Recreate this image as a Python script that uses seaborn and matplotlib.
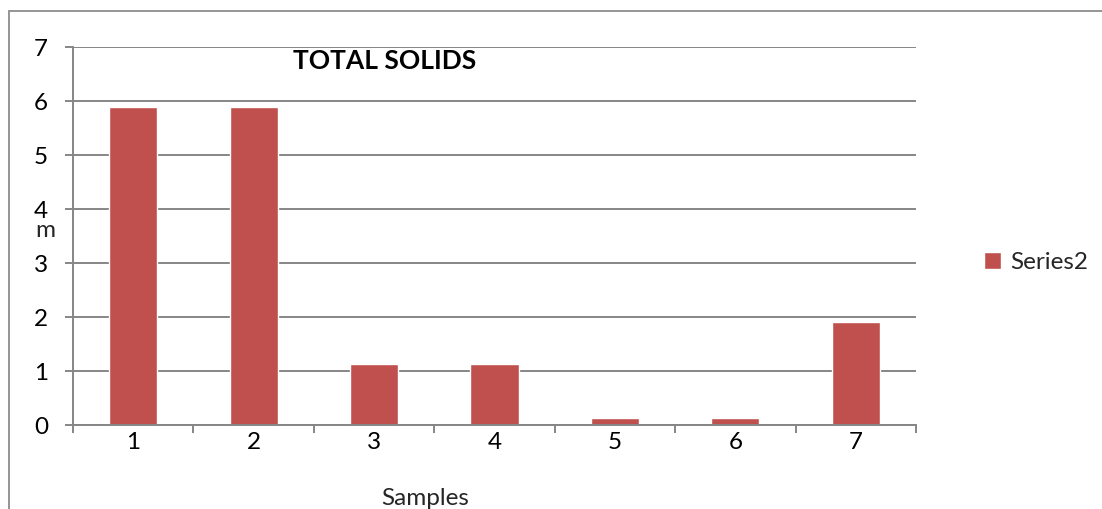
import matplotlib
matplotlib.use("Agg")
import matplotlib.pyplot as plt
from matplotlib.patches import Patch, Rectangle
import seaborn as sns
import pandas as pd

# Total solids per sample
samples = ["1", "2", "3", "4", "5", "6", "7"]
total_solids = [5.9, 5.9, 1.13, 1.13, 0.13, 0.13, 1.9]
y_ticks = [0, 1, 2, 3, 4, 5, 6, 7]

bar_color = "#C0504D"
grid_color = "#868686"
fs = 17.5

sns.set_theme(style="white")
plt.rcParams["font.family"] = ["Lato", "DejaVu Sans"]

fig = plt.figure(figsize=(11.02, 5.09), dpi=100)
ax = fig.add_axes([0.0662, 0.165, 0.765, 0.7423])

df = pd.DataFrame({"sample": samples, "value": total_solids})
sns.barplot(data=df, x="sample", y="value", color=bar_color, width=0.4,
            saturation=1, ax=ax)

ax.set_xlim(-0.5, len(samples) - 0.5)
ax.set_ylim(0, 7)
ax.set_yticks(y_ticks)
ax.set_yticklabels([str(t) for t in y_ticks])
ax.yaxis.grid(True, color=grid_color, linewidth=1.4)
ax.set_axisbelow(True)

# Tick marks sit between categories on x
ax.set_xticks([i - 0.5 for i in range(len(samples) + 1)], minor=True)
ax.tick_params(axis="x", which="minor", length=6, width=1.4, color=grid_color,
               direction="out", bottom=True)
ax.tick_params(axis="x", which="major", length=0, pad=5, labelsize=fs,
               labelcolor="black")
ax.tick_params(axis="y", which="major", length=6, width=1.4, color=grid_color,
               direction="out", left=True, pad=12, labelsize=fs,
               labelcolor="black")

for side in ("top", "right"):
    ax.spines[side].set_visible(False)
for side in ("left", "bottom"):
    ax.spines[side].set_color(grid_color)
    ax.spines[side].set_linewidth(1.4)

ax.set_xlabel("")
ax.set_ylabel("")
fig.text(0.041, 0.548, "m", fontsize=fs, ha="center", va="center")
fig.text(0.386, 0.0, "Samples", fontsize=fs, ha="center", va="bottom")

ax.text(0.37, 0.995, "TOTAL SOLIDS", transform=ax.transAxes, fontsize=19,
        fontweight="bold", ha="center", va="top", color="black")

fig.legend(handles=[Patch(facecolor=bar_color, label="Series2")],
           loc="center left", bbox_to_anchor=(0.873, 0.485), frameon=False,
           fontsize=fs, handlelength=0.7, handleheight=0.7,
           handletextpad=0.4)

# Outer chart border
fig.patches.append(Rectangle((9 / 1102, -0.5), 1.2, 0.5 + 1 - 11 / 509,
                             transform=fig.transFigure, fill=False,
                             edgecolor="#8C8C8C", linewidth=1.3,
                             clip_on=False))

fig.savefig("out.png", dpi=100)
